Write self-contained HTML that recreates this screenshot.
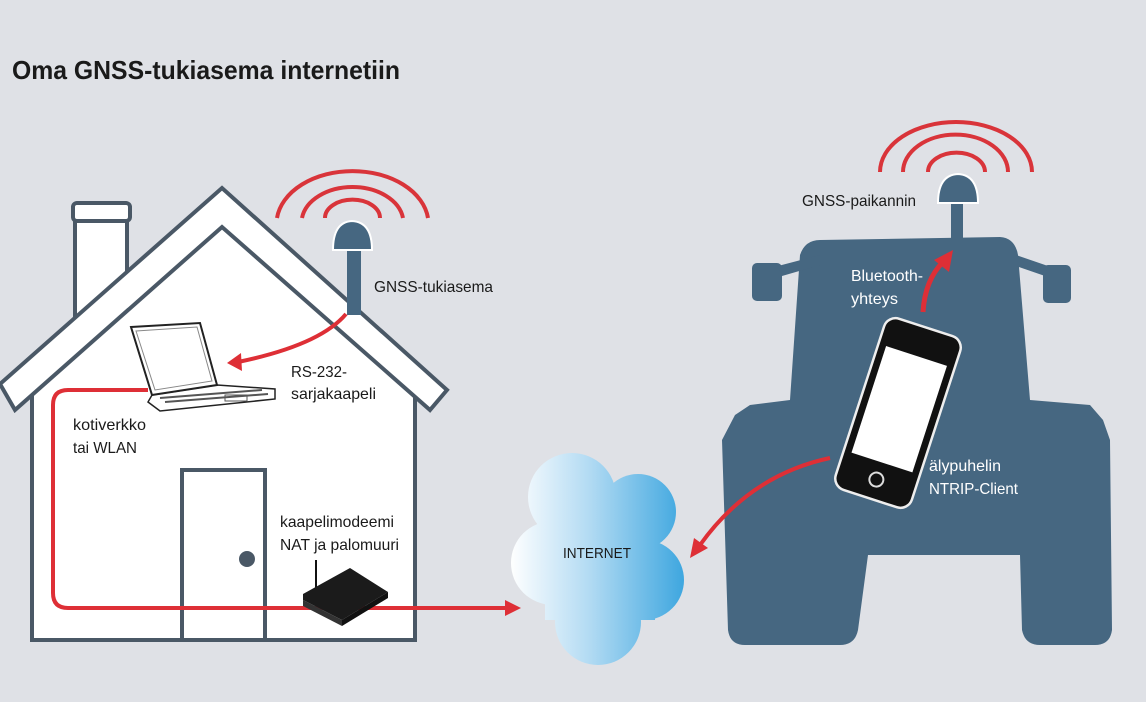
<!DOCTYPE html>
<html><head><meta charset="utf-8"><style>
html,body{margin:0;padding:0;background:#dfe1e6;}
svg{display:block;}
text{font-family:"Liberation Sans Narrow","Liberation Sans",sans-serif;}
</style></head><body>
<svg width="1146" height="702" viewBox="0 0 1146 702" xmlns="http://www.w3.org/2000/svg">
<defs>
<linearGradient id="cg" gradientUnits="userSpaceOnUse" x1="510" x2="685" y1="0" y2="0">
<stop offset="0" stop-color="#ffffff"/><stop offset="0.45" stop-color="#b3dbf3"/><stop offset="1" stop-color="#3da6df"/>
</linearGradient>
</defs>
<rect width="1146" height="702" fill="#dfe1e6"/>
<text x="12" y="79" font-size="26" font-weight="bold" fill="#1a1a1a" textLength="388" lengthAdjust="spacingAndGlyphs">Oma GNSS-tukiasema internetiin</text>

<!-- house -->
<rect x="75" y="205" width="52" height="120" fill="#fff" stroke="#4a5866" stroke-width="4"/>
<rect x="73" y="203" width="57" height="18" rx="4" fill="#fff" stroke="#4a5866" stroke-width="4"/>
<polygon points="32,395 222,225 415,395 415,640 32,640" fill="#fff"/>
<polyline points="32,395 32,640 415,640 415,395" fill="none" stroke="#4a5866" stroke-width="4"/>
<polygon points="0,384 222,188 447,390 430,410 222,227 15,410" fill="#fff" stroke="#4a5866" stroke-width="4" stroke-linejoin="miter"/>
<rect x="182" y="470" width="83" height="170" fill="#fff" stroke="#4a5866" stroke-width="4"/>
<circle cx="247" cy="559" r="8" fill="#4a5866"/>

<!-- house antenna -->
<rect x="347" y="240" width="14" height="75" fill="#466781"/>
<path d="M333,250 Q333,222 352,221 Q372,222 372,250 Z" fill="#466781" stroke="#fff" stroke-width="2"/>
<g fill="none" stroke="#d9343a" stroke-width="4">
<path d="M277,218 A76,53 0 0 1 428,218"/>
<path d="M302,218 A51,36 0 0 1 403,218"/>
<path d="M325,218 A27,18 0 0 1 380,218"/>
</g>

<!-- red cable -->
<path d="M148,390 H68 Q53,390 53,405 V593 Q53,608 68,608 H508" fill="none" stroke="#de2f36" stroke-width="4"/>
<polygon points="505,600 521,608 505,616" fill="#de2f36"/>
<path d="M346,314 Q320,345 238,362" fill="none" stroke="#de2f36" stroke-width="4"/>
<polygon points="227,363 241,353 242,371" fill="#de2f36"/>

<!-- laptop -->
<polygon points="152,395 217,385 275,389 275,399 160,411 148,402" fill="#fff" stroke="#222" stroke-width="1.5"/>
<polygon points="131,327 200,323 217,385 152,395" fill="#fff" stroke="#222" stroke-width="2"/>
<polygon points="136,331 197,327 212,381 155,390" fill="none" stroke="#888" stroke-width="1"/>
<path d="M160,398 L262,390 M165,402 L268,394" stroke="#555" stroke-width="2"/>
<rect x="225" y="395" width="22" height="6" fill="none" stroke="#555" stroke-width="1"/>

<!-- router -->
<line x1="316" y1="560" x2="316" y2="590" stroke="#111" stroke-width="2"/>
<polygon points="303,594 350,568 388,592 342,620 303,600" fill="#1b1b1b"/>
<polygon points="303,600 342,620 342,626 303,606" fill="#333"/>
<polygon points="342,620 388,592 388,598 342,626" fill="#111"/>

<!-- labels left -->
<g font-size="16" fill="#1a1a1a">
<text x="374" y="292" textLength="119" lengthAdjust="spacingAndGlyphs">GNSS-tukiasema</text>
<text x="291" y="377" textLength="56" lengthAdjust="spacingAndGlyphs">RS-232-</text>
<text x="291" y="399" textLength="85" lengthAdjust="spacingAndGlyphs">sarjakaapeli</text>
<text x="73" y="430" textLength="73" lengthAdjust="spacingAndGlyphs">kotiverkko</text>
<text x="73" y="453" textLength="64" lengthAdjust="spacingAndGlyphs">tai WLAN</text>
<text x="280" y="527" textLength="114" lengthAdjust="spacingAndGlyphs">kaapelimodeemi</text>
<text x="280" y="550" textLength="119" lengthAdjust="spacingAndGlyphs">NAT ja palomuuri</text>
</g>

<!-- cloud -->
<g fill="url(#cg)">
<circle cx="572" cy="497" r="44"/>
<circle cx="638" cy="512" r="38"/>
<circle cx="553" cy="563" r="42"/>
<circle cx="644" cy="580" r="40"/>
<circle cx="598" cy="622" r="43"/>
<rect x="545" y="500" width="110" height="120"/>
</g>
<text x="597" y="558" font-size="15" text-anchor="middle" fill="#1a1a1a" textLength="68" lengthAdjust="spacingAndGlyphs">INTERNET</text>

<!-- tractor -->
<g fill="#466781">
<path d="M820,240 L1000,237 Q1015,238 1018,255 L1030,400 L1090,405 L1103,420 L1110,440 L1112,630 Q1110,645 1095,645 L1040,645 Q1025,645 1022,630 L1020,555 L868,555 L858,630 Q855,645 840,645 L745,645 Q730,645 728,630 L722,440 L735,415 L750,405 L790,400 L800,255 Q805,240 820,240 Z"/>
<rect x="752" y="263" width="30" height="38" rx="5"/>
<rect x="1043" y="265" width="28" height="38" rx="5"/>
<polygon points="778,266 820,255 820,265 782,276"/>
<polygon points="1016,255 1048,266 1045,276 1016,266"/>
<rect x="951" y="195" width="12" height="48"/>
<path d="M938,203 Q938,175 958,174 Q978,175 978,203 Z" stroke="#fff" stroke-width="2"/>
</g>
<g fill="none" stroke="#d9343a" stroke-width="4">
<path d="M880,172 A76,50 0 0 1 1032,172"/>
<path d="M903,172 A52,37 0 0 1 1008,172"/>
<path d="M928,172 A28,19 0 0 1 985,172"/>
</g>
<text x="802" y="206" font-size="16" fill="#1a1a1a" textLength="114" lengthAdjust="spacingAndGlyphs">GNSS-paikannin</text>

<!-- bluetooth arrow -->
<path d="M923,312 Q925,280 943,262" fill="none" stroke="#de2f36" stroke-width="5"/>
<polygon points="953,250 949,272 934,260" fill="#de2f36"/>
<g font-size="16" fill="#fff">
<text x="851" y="281" textLength="72" lengthAdjust="spacingAndGlyphs">Bluetooth-</text>
<text x="851" y="304" textLength="47" lengthAdjust="spacingAndGlyphs">yhteys</text>
<text x="929" y="471" textLength="72" lengthAdjust="spacingAndGlyphs">älypuhelin</text>
<text x="929" y="494" textLength="89" lengthAdjust="spacingAndGlyphs">NTRIP-Client</text>
</g>

<!-- phone -->
<g transform="translate(898,413) rotate(18)">
<rect x="-40" y="-90" width="80" height="180" rx="12" fill="#111" stroke="#eee" stroke-width="2.5"/>
<rect x="-32" y="-60" width="64" height="112" fill="#fff"/>
<circle cx="0" cy="70" r="7" fill="none" stroke="#ddd" stroke-width="2"/>
</g>

<!-- arrow to cloud -->
<path d="M830,458 Q750,475 700,545" fill="none" stroke="#de2f36" stroke-width="4"/>
<polygon points="690,558 694,538 708,548" fill="#de2f36"/>
</svg>
</body></html>
